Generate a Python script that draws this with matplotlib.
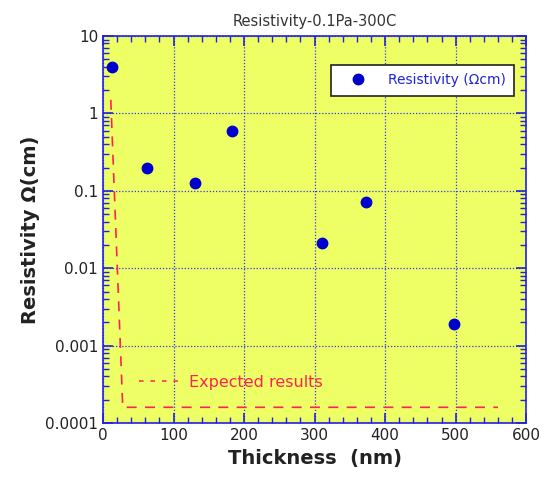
import matplotlib
matplotlib.use("Agg")
import matplotlib.pyplot as plt
from matplotlib.lines import Line2D
from matplotlib.ticker import LogLocator, MultipleLocator, FixedFormatter, FixedLocator

# measured data
thickness = [13, 63, 131, 183, 311, 373, 498]
resistivity = [4.0, 0.2, 0.125, 0.6, 0.021, 0.072, 0.0019]

# expected trend (dashed guide)
exp_x = [11, 28, 560]
exp_y = [1.5, 0.00016, 0.00016]

blue = "#2222dd"
red = "#ff2255"
yellow = "#eeff66"

fig = plt.figure(figsize=(5.52, 4.83), dpi=100)
ax = fig.add_axes([0.1866, 0.124, 0.7666, 0.8015])
ax.set_facecolor(yellow)

pts, = ax.plot(thickness, resistivity, "o", color="#0000cc", markersize=7.5,
               label="Resistivity (\u03a9cm)", zorder=3)
ax.plot(exp_x, exp_y, "--", color=red, lw=1.2, dashes=(6, 5), zorder=2)

ax.set_yscale("log")
ax.set_xlim(0, 600)
ax.set_ylim(1e-4, 10)

ax.xaxis.set_major_locator(MultipleLocator(100))
ax.xaxis.set_minor_locator(MultipleLocator(20))
ax.yaxis.set_major_locator(FixedLocator([1e-4, 1e-3, 1e-2, 1e-1, 1, 10]))
ax.yaxis.set_major_formatter(FixedFormatter(["0.0001", "0.001", "0.01", "0.1", "1", "10"]))
ax.yaxis.set_minor_locator(LogLocator(base=10, subs=range(2, 10)))

ax.grid(True, which="major", color="#3333ee", linestyle=(0, (1, 1.5)), lw=0.9)
for s in ax.spines.values():
    s.set_color(blue)
    s.set_linewidth(1.2)
ax.tick_params(which="both", direction="in", top=True, right=True, color=blue,
               labelcolor="#222222", labelsize=11)
ax.tick_params(which="major", length=7, width=1.2)
ax.tick_params(which="minor", length=4, width=1.0)

ax.set_xlabel("Thickness  (nm)", fontsize=14, fontweight="bold", color="#222222")
ax.set_ylabel("Resistivity \u03a9(cm)", fontsize=14, fontweight="bold", color="#222222")
ax.set_title("Resistivity-0.1Pa-300C", fontsize=10.5, color="#333333", pad=7)

leg1 = ax.legend(handles=[pts], loc="upper right", bbox_to_anchor=(0.972, 0.925),
                 borderaxespad=0, fancybox=False, framealpha=1, edgecolor="#222222",
                 fontsize=10, borderpad=0.6, handlelength=2.6, handletextpad=0.9)
leg1.get_frame().set_linewidth(1.2)
leg1.get_texts()[0].set_color(blue)
ax.add_artist(leg1)

exp_handle = Line2D([], [], color=red, lw=1.1, dashes=(3, 4.5))
leg2 = ax.legend(handles=[exp_handle], labels=["Expected results"], loc="center left",
                 bbox_to_anchor=(0.07, 0.105), borderaxespad=0, frameon=False,
                 fontsize=11.5, handlelength=2.6, handletextpad=0.5)
leg2.get_texts()[0].set_color(red)

fig.savefig("out.png", dpi=100)
